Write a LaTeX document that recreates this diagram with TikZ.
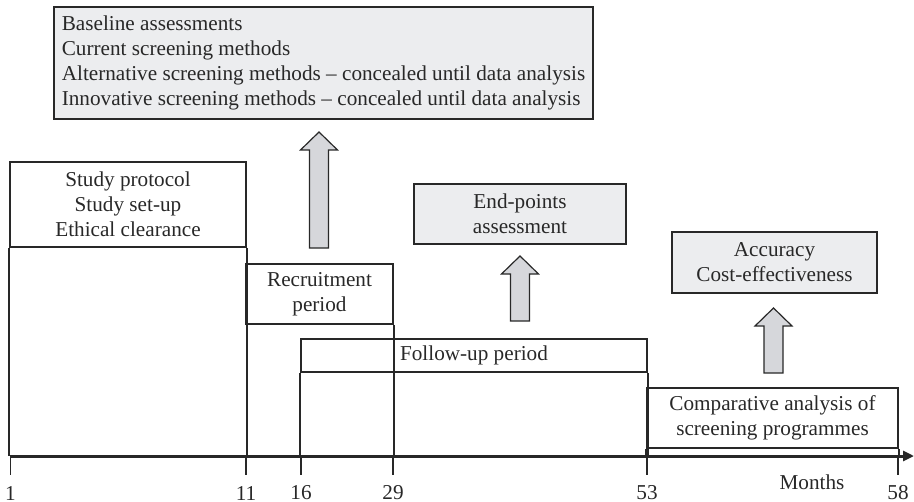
\documentclass[tikz,border=0pt]{standalone}
\usepackage{fontspec}
\setmainfont{Liberation Serif}
\usetikzlibrary{arrows.meta}
\definecolor{boxgray}{RGB}{236,237,239}
\definecolor{arrowgray}{RGB}{214,215,219}
\definecolor{linegray}{RGB}{40,40,40}

\begin{document}
\begin{tikzpicture}[x=0.5pt,y=-0.5pt,
  every node/.style={font=\fontsize{10.6}{12.6}\selectfont, text=linegray},
  phase/.style={draw=linegray, line width=1pt, align=center, inner sep=0pt},
  result/.style={phase, fill=boxgray},
  phaseline/.style={draw=linegray, line width=1pt},
  blockarrow/.style={draw=linegray, fill=arrowgray, line width=0.6pt},
  tick/.style={draw=linegray, line width=0.8pt}]
\useasboundingbox (0,0) rectangle (914,502);

\node[result, align=left, minimum width=269.5pt, minimum height=56pt] (baseline) at (323.5,63) {Baseline assessments\\Current screening methods\\Alternative screening methods -- concealed until data analysis\\Innovative screening methods -- concealed until data analysis};
\node[result, minimum width=106pt, minimum height=30pt] (endpoints) at (520,214) {End-points\\assessment};
\node[result, minimum width=102.5pt, minimum height=30.5pt] (accuracy) at (774.5,262.5) {Accuracy\\Cost-effectiveness};

\node[phase, minimum width=118pt, minimum height=42.5pt] (protocol) at (128,204.5) {Study protocol\\Study set-up\\Ethical clearance};
\node[phase, minimum width=73.5pt, minimum height=30pt] (recruit) at (319.5,294) {Recruitment\\period};
\node[phase, minimum width=173pt, minimum height=16.5pt] (followup) at (474,355.5) {Follow-up period};
\node[phase, minimum width=125.5pt, minimum height=30pt] (compare) at (772.5,418) {Comparative analysis of\\screening programmes};

\coordinate (axisL) at (10,456);
\coordinate (axisR) at (914,456);

\draw[phaseline] (protocol.south west) -- (protocol.south west |- axisL);
\draw[phaseline] (protocol.south east) -- (protocol.south east |- axisL);
\draw[phaseline] (recruit.south east) -- (recruit.south east |- axisL);
\draw[phaseline] (followup.south west) -- (followup.south west |- axisL);
\draw[phaseline] (followup.south east) -- (followup.south east |- axisL);
\draw[phaseline] (compare.south west) -- (compare.south west |- axisL);
\draw[phaseline] (compare.south east) -- (compare.south east |- axisL);

\draw[blockarrow] (309.5,248) -- (309.5,150) -- (300.5,150) -- (319,132) -- (337.5,150) -- (328.5,150) -- (328.5,248) -- cycle;
\draw[blockarrow] (510.5,321) -- (510.5,274) -- (501.5,274) -- (520,256) -- (538.5,274) -- (529.5,274) -- (529.5,321) -- cycle;
\draw[blockarrow] (764,373) -- (764,326) -- (755,326) -- (773.5,308) -- (792,326) -- (783,326) -- (783,373) -- cycle;

\foreach \x/\m in {10.5/1, 246/11, 301/16, 393/29, 647/53, 898/58} {
  \draw[tick] (\x,456) -- (\x,475);
  \node (month\m) at (\x,493) {\m};
}
\node (months) at (812,482) {Months};

\draw[draw=linegray, line width=1.5pt, -{Triangle[length=5.5pt,width=5pt]}] (axisL) -- (axisR);
\end{tikzpicture}
\end{document}
